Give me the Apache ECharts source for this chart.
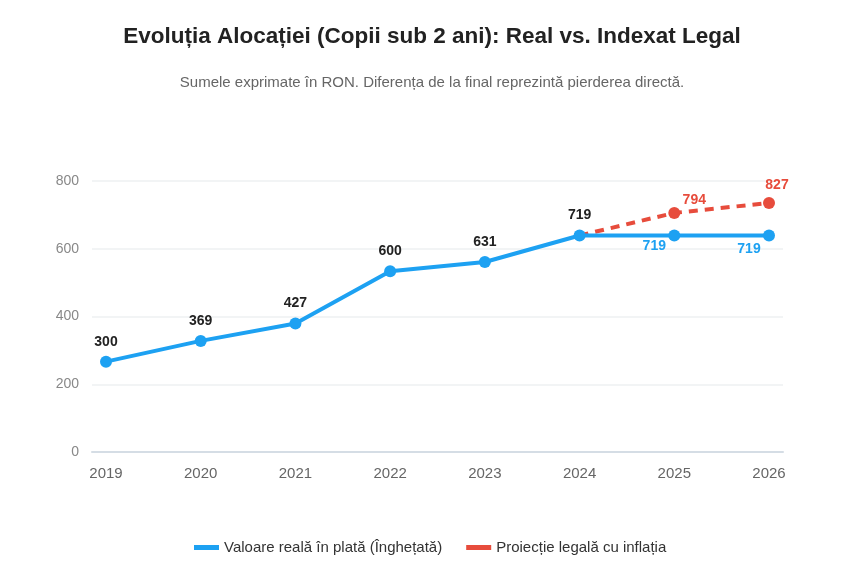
<!DOCTYPE html>
<html>
<head>
<meta charset="utf-8">
<script src="https://cdn.jsdelivr.net/npm/echarts@6/dist/echarts.min.js"></script>
<style>html,body{margin:0;padding:0;background:#fff}#c{width:851px;height:580px}</style>
</head>
<body>
<div id="c"></div>
<script>
const years = ['2019','2020','2021','2022','2023','2024','2025','2026'];
const realValues = [300, 369, 427, 600, 631, 719, 719, 719];
const legalValues = [null, null, null, null, null, 719, 794, 827];
const yTickLabels = ['0','200','400','600','800'];
const seriesNames = ['Valoare reală în plată (Înghețată)', 'Proiecție legală cu inflația'];

const BLUE = '#1da1f2', RED = '#e74c3c';
const FONT = '"Liberation Sans", Arial, sans-serif';

const chart = echarts.init(document.getElementById('c'), null, {renderer:'canvas'});

const realData = realValues.map((v, i) => {
  if (i >= 6) {
    return {value: v, label: {position: 'bottom', offset: [-20, i === 6 ? -9 : -6], color: BLUE, fontWeight: 'bold'}};
  }
  return v;
});
const legalData = legalValues.map((v, i) => {
  if (v === null) return '-';
  if (i === 5) return {value: v, symbolSize: 0, label: {show: false}};
  if (i === 6) return {value: v, label: {show: true, position: 'top', offset: [20, 5]}};
  return {value: v, label: {show: true, position: 'top', offset: [8, 0]}};
});

chart.setOption({
  backgroundColor: '#fff',
  animation: false,
  textStyle: {fontFamily: FONT},
  title: [
    {text: 'Evoluția Alocației (Copii sub 2 ani): Real vs. Indexat Legal', left: 427, textAlign: 'center', top: 20,
     textStyle: {fontSize: 22.5, fontWeight: 'bold', color: '#222', fontFamily: FONT}},
    {text: 'Sumele exprimate în RON. Diferența de la final reprezintă pierderea directă.', left: 427, textAlign: 'center', top: 70,
     textStyle: {fontSize: 15, fontWeight: 'normal', color: '#666', fontFamily: FONT}}
  ],
  legend: {
    bottom: 20, left: 189, icon: 'rect', itemWidth: 25, itemHeight: 5, itemGap: 24,
    textStyle: {fontSize: 15, color: '#333', fontFamily: FONT},
    data: seriesNames
  },
  grid: [
    {left: 106, right: 82, top: 181, bottom: 128},
    {left: 92, right: 68, top: 181, bottom: 128}
  ],
  xAxis: [
    {type: 'category', gridIndex: 0, data: years, boundaryGap: false,
     axisLine: {show: false}, axisTick: {show: false},
     axisLabel: {color: '#666', fontSize: 15, margin: 14, fontFamily: FONT}, splitLine: {show: false}},
    {type: 'value', gridIndex: 1, min: 0, max: 1, show: true,
     axisLine: {show: true, lineStyle: {color: '#d5dde5', width: 2}}, axisTick: {show: false},
     axisLabel: {show: false}, splitLine: {show: false}}
  ],
  yAxis: [
    {type: 'value', gridIndex: 0, min: 0, max: 900, interval: 225, show: false},
    {type: 'value', gridIndex: 1, min: 0, max: 900, interval: 225,
     axisLine: {show: false}, axisTick: {show: false},
     axisLabel: {color: '#888', fontSize: 14, margin: 13, fontFamily: FONT,
       formatter: (v, i) => yTickLabels[Math.round(v / 225)]},
     splitLine: {lineStyle: {color: '#eef0f2', width: 1.5}}}
  ],
  series: [
    {
      name: seriesNames[1], type: 'line', xAxisIndex: 0, yAxisIndex: 0, data: legalData,
      z: 2, symbol: 'circle', symbolSize: 12,
      itemStyle: {color: RED},
      lineStyle: {color: RED, width: 4, type: [9, 7]},
      label: {show: true, color: RED, fontWeight: 'bold', fontSize: 14, fontFamily: FONT},
      connectNulls: false
    },
    {
      name: seriesNames[0], type: 'line', xAxisIndex: 0, yAxisIndex: 0, data: realData,
      z: 3, symbol: 'circle', symbolSize: 12,
      itemStyle: {color: BLUE},
      lineStyle: {color: BLUE, width: 4},
      label: {show: true, position: 'top', distance: 7, color: '#222', fontWeight: 'bold', fontSize: 14, fontFamily: FONT}
    }
  ]
});
</script>
</body>
</html>
